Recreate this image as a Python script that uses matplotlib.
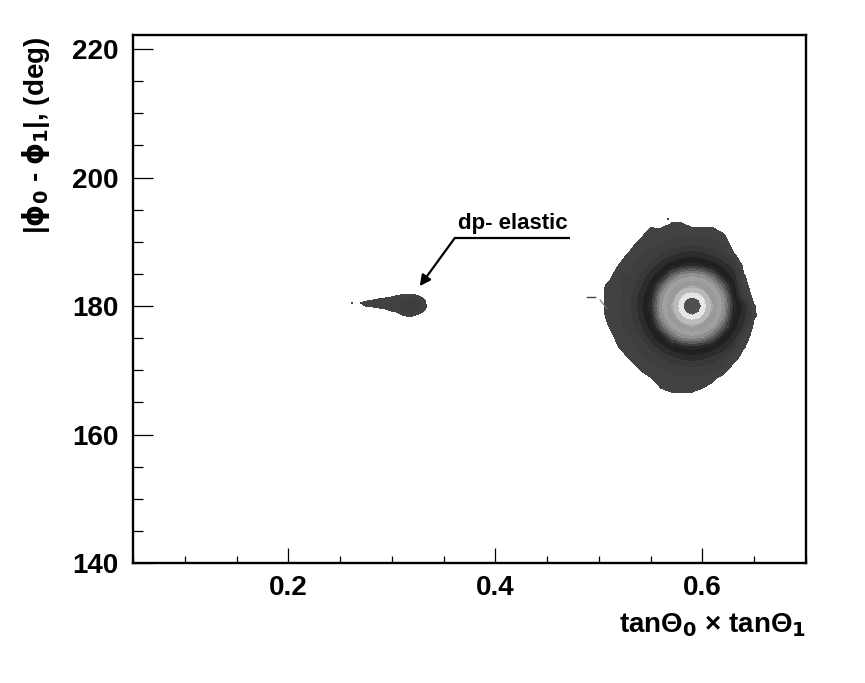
import numpy as np
import matplotlib
matplotlib.use("Agg")
import matplotlib.pyplot as plt
from matplotlib.ticker import MultipleLocator

plt.rcParams['font.family'] = ['Liberation Sans', 'DejaVu Sans']
plt.rcParams['font.weight'] = 'bold'
plt.rcParams['mathtext.fontset'] = 'dejavusans'
plt.rcParams['mathtext.default'] = 'bf'

# =====================================================
#   2D histogram levels
# =====================================================
# main peak, x = 0.50 .. 0.66 (step 0.01), y = 165.6 .. 194.4 (step 1.6)
big_x = [0.50, 0.51, 0.52, 0.53, 0.54, 0.55, 0.56, 0.57, 0.58,
         0.59, 0.60, 0.61, 0.62, 0.63, 0.64, 0.65, 0.66]
big_y = [165.6, 167.2, 168.8, 170.4, 172.0, 173.6, 175.2, 176.8, 178.4, 180.0,
         181.6, 183.2, 184.8, 186.4, 188.0, 189.6, 191.2, 192.8, 194.4]
big_z = [
    [0, 0, 0, 0, 0, 0, 0, 0, 0, 0, 0, 0, 0, 0, 0, 0, 0],
    [0, 0, 0, 0, 0, 0, 0.5, 0.8, 0.8, 0.8, 0.5, 0, 0, 0, 0, 0, 0],
    [0, 0, 0, 0, 0, 0.45, 1.2, 1.3, 1.4, 1.4, 1.4, 0.83, 0, 0, 0, 0, 0],
    [0, 0, 0, 0, 0.67, 1.3, 1.5, 1.8, 2.2, 2.3, 2.2, 1.8, 1.5, 0, 0, 0, 0],
    [0, 0, 0, 0.63, 1.4, 1.7, 2.5, 3.2, 3.8, 4.0, 3.8, 3.2, 2.5, 1.0, 0, 0, 0],
    [0, 0, 0.55, 1.3, 1.7, 2.7, 4.0, 4.9, 5.5, 6.0, 5.5, 4.9, 4.0, 2.7, 0.56, 0, 0],
    [0, 0, 1.1, 1.5, 2.5, 4.0, 5.3, 7.9, 9.7, 10.2, 9.7, 7.9, 5.3, 4.0, 1.1, 0, 0],
    [0, 0.53, 1.3, 1.8, 3.2, 4.9, 7.9, 10.7, 12.0, 12.5, 12.0, 10.7, 7.9, 4.9, 3.2, 0, 0],
    [0, 0.83, 1.4, 2.2, 3.8, 5.5, 9.7, 12.0, 13.2, 13.4, 13.2, 12.0, 9.7, 5.5, 3.8, 0.63, 0],
    [0, 1.0, 1.4, 2.3, 4.0, 6.0, 10.2, 12.5, 13.4, 13.4, 13.4, 12.5, 10.2, 6.0, 4.0, 0.55, 0],
    [0, 1.0, 1.4, 2.2, 3.8, 5.5, 9.7, 12.0, 13.2, 13.4, 13.2, 12.0, 9.7, 5.5, 1.67, 0, 0],
    [0, 0.83, 1.3, 1.8, 3.2, 4.9, 7.9, 10.7, 12.0, 12.5, 12.0, 10.7, 7.9, 4.9, 0.83, 0, 0],
    [0, 0, 1.6, 1.5, 2.5, 4.0, 5.3, 7.9, 9.7, 10.2, 9.7, 7.9, 5.3, 4.0, 0.56, 0, 0],
    [0, 0, 0.55, 1.3, 1.7, 2.7, 4.0, 4.9, 5.5, 6.0, 5.5, 4.9, 4.0, 2.7, 0, 0, 0],
    [0, 0, 0, 0.77, 1.4, 1.7, 2.5, 3.2, 3.8, 4.0, 3.8, 3.2, 2.5, 0.6, 0, 0, 0],
    [0, 0, 0, 0, 1.0, 1.3, 1.5, 1.8, 2.2, 2.3, 2.2, 1.8, 1.25, 0, 0, 0, 0],
    [0, 0, 0, 0, 0, 1.25, 1.2, 1.3, 1.4, 1.4, 1.4, 1.3, 0.55, 0, 0, 0, 0],
    [0, 0, 0, 0, 0, 0, 0, 0.55, 0.55, 0, 0, 0, 0, 0, 0, 0, 0],
    [0, 0, 0, 0, 0, 0, 0, 0, 0, 0, 0, 0, 0, 0, 0, 0, 0],
]

# finer bins around the top of the main peak, x = 0.570 .. 0.610, y = 176.8 .. 183.2
core_x = [0.570, 0.575, 0.580, 0.585, 0.590, 0.595, 0.600, 0.605, 0.610]
core_y = [176.8, 177.6, 178.4, 179.2, 180.0, 180.8, 181.6, 182.4, 183.2]
core_z = [
    [12.2, 12.6, 12.8, 12.9, 13.0, 12.9, 12.8, 12.6, 12.2],
    [12.6, 13.2, 13.5, 13.9, 14.0, 13.9, 13.5, 13.2, 12.6],
    [12.8, 13.4, 14.2, 14.9, 15.1, 14.9, 14.2, 13.4, 12.8],
    [12.9, 13.85, 14.9, 15.6, 16.0, 15.6, 14.9, 13.85, 12.9],
    [13.0, 14.0, 15.1, 16.0, 17.0, 16.0, 15.1, 14.0, 13.0],
    [12.9, 13.85, 14.9, 15.6, 16.0, 15.6, 14.9, 13.85, 12.9],
    [12.8, 13.4, 14.2, 14.9, 15.1, 14.9, 14.2, 13.4, 12.8],
    [12.6, 13.2, 13.5, 13.9, 14.0, 13.9, 13.5, 13.2, 12.6],
    [12.2, 12.6, 12.8, 12.9, 13.0, 12.9, 12.8, 12.6, 12.2],
]

# dp-elastic peak, x = 0.265 .. 0.340 (step 0.005), y = 178.0 .. 182.5 (step 0.5)
el_x = [0.265, 0.270, 0.275, 0.280, 0.285, 0.290, 0.295, 0.300,
        0.305, 0.310, 0.315, 0.320, 0.325, 0.330, 0.335, 0.340]
el_y = [178.0, 178.5, 179.0, 179.5, 180.0, 180.5, 181.0, 181.5, 182.0, 182.5]
el_z = [
    [0, 0, 0, 0, 0, 0, 0, 0, 0, 0, 0, 0, 0, 0, 0, 0],
    [0, 0, 0, 0, 0, 0, 0, 0, 0, 0.3, 0.6, 0.6, 0.2, 0, 0, 0],
    [0, 0, 0, 0, 0, 0, 0, 0.2, 0.45, 1.2, 1.5, 1.5, 1.0, 0.3, 0, 0],
    [0, 0, 0, 0, 0, 0.3, 0.5, 0.9, 1.2, 1.6, 2.0, 2.1, 1.8, 1.2, 0, 0],
    [0, 0, 0.55, 0.6, 0.9, 1.0, 1.0, 1.1, 1.4, 1.9, 2.2, 2.3, 2.0, 1.3, 0, 0],
    [0, 0.55, 1.0, 1.0, 1.0, 1.0, 1.0, 1.1, 1.4, 1.8, 2.2, 2.2, 1.9, 1.2, 0, 0],
    [0, 0, 0, 0.3, 0.55, 0.8, 0.9, 1.0, 1.2, 1.5, 1.8, 1.8, 1.4, 0.8, 0, 0],
    [0, 0, 0, 0, 0, 0, 0.2, 0.4, 0.7, 0.9, 1.1, 1.1, 0.7, 0, 0, 0],
    [0, 0, 0, 0, 0, 0, 0, 0, 0, 0.2, 0.3, 0.3, 0, 0, 0, 0],
    [0, 0, 0, 0, 0, 0, 0, 0, 0, 0, 0, 0, 0, 0, 0, 0],
]

# contour levels and grey palette (ROOT style, top level wraps to dark)
levels = [0.5, 1.5, 2.5, 3.5, 4.5, 5.5, 6.5, 7.5, 8.5, 9.5,
          10.5, 11.5, 12.5, 13.5, 14.5, 15.5, 100]
greys = [66, 62, 56, 44, 32, 40, 64, 92, 120, 144,
         160, 154, 172, 186, 230, 80]

# stray single entries / contour fragments
stray_x = [0.2613, 0.5664]
stray_y = [180.42, 193.54]
dash_x = [0.4883, 0.4964]
dash_y = [181.45, 181.45]
diag_x = [0.5012, 0.5077]
diag_y = [180.95, 179.6]

# =====================================================
#                 FIGURE
# =====================================================
fig = plt.figure(figsize=(8.65, 6.83), dpi=100)
ax = fig.add_axes([0.1538, 0.1757, 0.7780, 0.7731])

cols = ['#%02x%02x%02x' % (g, g, g) for g in greys]
ax.contourf(big_x, big_y, np.array(big_z), levels=levels, colors=cols)
ax.contourf(core_x, core_y, np.array(core_z), levels=levels[13:], colors=cols[13:])
ax.contourf(el_x, el_y, np.array(el_z), levels=levels, colors=cols)

ax.plot(stray_x, stray_y, 's', color='#444444', ms=1.5, mew=0)
ax.plot(dash_x, dash_y, color='#444444', lw=1.0)
ax.plot(diag_x, diag_y, color='#777777', lw=0.8)

# annotation
ax.plot([0.3608, 0.4722], [190.6, 190.6], color='black', lw=1.6,
        solid_capstyle='butt')
ax.annotate('', xy=(0.3269, 183.1), xytext=(0.3608, 190.6),
            arrowprops=dict(arrowstyle='-|>', color='black', lw=1.6,
                            mutation_scale=16, shrinkA=0, shrinkB=0))
ax.text(0.4165, 192.9, 'dp- elastic', ha='center', va='center',
        fontsize=16, fontweight='bold')

ax.set_xlim(0.05, 0.7)
ax.set_ylim(140, 222.2)

ax.xaxis.set_major_locator(MultipleLocator(0.2))
ax.xaxis.set_minor_locator(MultipleLocator(0.05))
ax.yaxis.set_major_locator(MultipleLocator(20))
ax.yaxis.set_minor_locator(MultipleLocator(5))
ax.set_xticks([0.2, 0.4, 0.6])
ax.set_xticklabels(['0.2', '0.4', '0.6'])

ax.tick_params(axis='both', which='both', direction='in', top=False,
               right=False, width=0.9, labelsize=20)
ax.tick_params(axis='x', which='major', length=10.8, pad=8.5)
ax.tick_params(axis='x', which='minor', length=5.4)
ax.tick_params(axis='y', which='major', length=14.4, pad=10.5)
ax.tick_params(axis='y', which='minor', length=7.2)
for lab in ax.get_xticklabels() + ax.get_yticklabels():
    lab.set_fontweight('bold')
for s in ax.spines.values():
    s.set_linewidth(1.7)

ax.text(1.0, -0.131, r'tanΘ$_0$ × tanΘ$_1$', transform=ax.transAxes,
        ha='right', va='baseline', fontsize=20, fontweight='bold')
fig.text(0.0231, 0.9458, r'|$\phi_0$ - $\phi_1$|, (deg)', rotation=90,
         ha='left', va='top', fontsize=20, fontweight='bold')

fig.savefig('out.png', dpi=100)
